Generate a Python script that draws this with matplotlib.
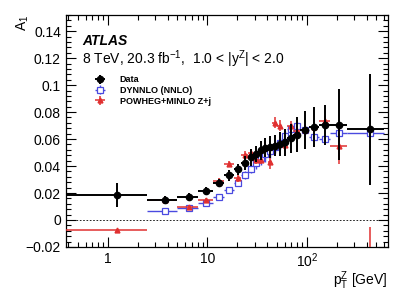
import numpy as np
import matplotlib
matplotlib.use("Agg")
import matplotlib.pyplot as plt
from matplotlib.ticker import FixedLocator, MultipleLocator, FuncFormatter, LogLocator, NullFormatter

plt.rcParams['font.family'] = ['Liberation Sans', 'DejaVu Sans']
plt.rcParams['mathtext.fontset'] = 'custom'
plt.rcParams['mathtext.rm'] = 'Liberation Sans'
plt.rcParams['mathtext.it'] = 'Liberation Sans:italic'

# =================================================================
# Data: A1 vs pT(Z), 1.0 < |y| < 2.0
# =================================================================
bin_edges = [0, 2.5, 5.0, 8.0, 11.4, 14.9, 18.5, 22.0, 25.5, 29.0, 32.6, 36.4,
             40.4, 44.9, 50.2, 56.4, 63.9, 73.4, 85.4, 105.0, 132.0, 173.0, 253.0, 600.0]
bin_centers = [1.25, 3.75, 6.5, 9.7, 13.15, 16.7, 20.25, 23.75, 27.25, 30.8, 34.5, 38.4,
               42.65, 47.55, 53.3, 60.15, 68.65, 79.4, 95.2, 118.5, 152.5, 213.0, 426.5]

data_a1 = [0.0183, 0.0149, 0.0172, 0.0215, 0.0272, 0.0330, 0.0376, 0.0422, 0.0464, 0.0490,
           0.0517, 0.0535, 0.0542, 0.0551, 0.0565, 0.0575, 0.0605, 0.0632, 0.0667, 0.0691,
           0.0706, 0.0708, 0.0671]
data_err = [0.009, 0.003, 0.003, 0.003, 0.003, 0.004, 0.004, 0.005, 0.006, 0.006,
            0.007, 0.007, 0.008, 0.008, 0.009, 0.010, 0.011, 0.013, 0.014, 0.015,
            0.015, 0.026, 0.041]

# DYNNLO starts at the second bin
dynnlo_a1 = [0.0063, 0.0092, 0.0129, 0.0171, 0.0222, 0.0275, 0.0332, 0.0378, 0.0420,
             0.0460, 0.0490, 0.0510, 0.0540, 0.0570, 0.0620, 0.0678, 0.0700, 0.0670,
             0.0618, 0.0598, 0.0642, 0.0642]
dynnlo_err = [0.001, 0.001, 0.001, 0.002, 0.002, 0.002, 0.003, 0.003, 0.004,
              0.005, 0.006, 0.005, 0.004, 0.004, 0.004, 0.004, 0.003, 0.003,
              0.002, 0.002, 0.002, 0.002]

powheg_a1 = [-0.0071, 0.0149, 0.0100, 0.0145, 0.0288, 0.0418, 0.0312, 0.0484, 0.0500,
             0.0445, 0.0445, 0.0540, 0.0430, 0.0722, 0.0700, 0.0557, 0.0695, 0.0660,
             0.0665, 0.0690, 0.0733, 0.0552, -0.0450]
powheg_err = [0.0005, 0.001, 0.001, 0.002, 0.002, 0.002, 0.003, 0.003, 0.003,
              0.003, 0.003, 0.004, 0.005, 0.004, 0.004, 0.004, 0.004, 0.004,
              0.004, 0.004, 0.004, 0.014, 0.040]

XMIN, XMAX = 0.38, 650

centers = np.array(bin_centers)
lo = np.maximum(np.array(bin_edges[:-1]), XMIN * 0.5)
hi = np.array(bin_edges[1:])
xerr = [centers - lo, hi - centers]

fig = plt.figure(figsize=(4.09, 2.94), dpi=100)
ax = fig.add_axes([0.161, 0.160, 0.787, 0.789])

blue = '#4a4ae0'
red = '#e03030'

ax.axhline(0, color='black', linestyle=(0, (2, 2)), linewidth=0.6, zorder=1)

ax.errorbar(centers[1:], dynnlo_a1, yerr=dynnlo_err,
            xerr=[xerr[0][1:], xerr[1][1:]], fmt='s', color=blue,
            mfc='white', mec=blue, ms=4, mew=0.9, elinewidth=1.0, capsize=0,
            label='DYNNLO (NNLO)', zorder=2)
ax.errorbar(centers, powheg_a1, yerr=powheg_err, xerr=xerr, fmt='^',
            color=red, ms=3.5, elinewidth=1.1, capsize=0,
            label='POWHEG+MINLO Z+j', zorder=3)
ax.errorbar(centers, data_a1, yerr=data_err, xerr=xerr, fmt='o',
            color='black', ms=4.5, elinewidth=1.4, capsize=0,
            label='Data', zorder=4)

ax.set_xscale('log')
ax.set_xlim(XMIN, XMAX)
ax.set_ylim(-0.02, 0.152)

ax.xaxis.set_major_locator(FixedLocator([1, 10, 100]))
ax.xaxis.set_major_formatter(FuncFormatter(
    lambda v, p: {1: '1', 10: '10', 100: '10$^2$'}.get(int(round(v)), '')))
ax.xaxis.set_minor_locator(LogLocator(base=10, subs=np.arange(2, 10)))
ax.xaxis.set_minor_formatter(NullFormatter())

ax.yaxis.set_major_locator(MultipleLocator(0.02))
ax.yaxis.set_minor_locator(MultipleLocator(0.004))
ax.yaxis.set_major_formatter(FuncFormatter(
    lambda v, p: '0' if abs(v) < 1e-9 else f'{v:g}'.replace('-', '\u2212')))

ax.tick_params(which='both', direction='in', top=True, right=True, labelsize=10)
ax.tick_params(which='major', length=7, width=0.8)
ax.tick_params(which='minor', length=3.5, width=0.8)
for s in ax.spines.values():
    s.set_linewidth(0.9)

ax.set_ylabel('A$_1$', fontsize=10, loc='top')
ax.yaxis.set_label_coords(-0.108, 1.0)
ax.set_xlabel('p$_\\mathrm{T}^\\mathrm{Z}$ [GeV]', fontsize=10, loc='right', labelpad=-1)

ax.text(0.05, 0.87, 'ATLAS', transform=ax.transAxes, fontsize=10,
        fontweight='bold', fontstyle='italic')
ax.text(0.05, 0.79, '8 TeV, 20.3 fb$^{-1}$,  1.0 < |y$^\\mathrm{Z}$| < 2.0',
        transform=ax.transAxes, fontsize=10)

handles, labels = ax.get_legend_handles_labels()
order = [2, 0, 1]
leg = ax.legend([handles[i] for i in order], [labels[i] for i in order],
                loc='upper left', bbox_to_anchor=(0.05, 0.755), frameon=False,
                prop={'size': 6.5, 'weight': 'bold'}, handlelength=3.2,
                handletextpad=0.6, labelspacing=0.17, borderaxespad=0)

fig.savefig('out.png', dpi=100)
